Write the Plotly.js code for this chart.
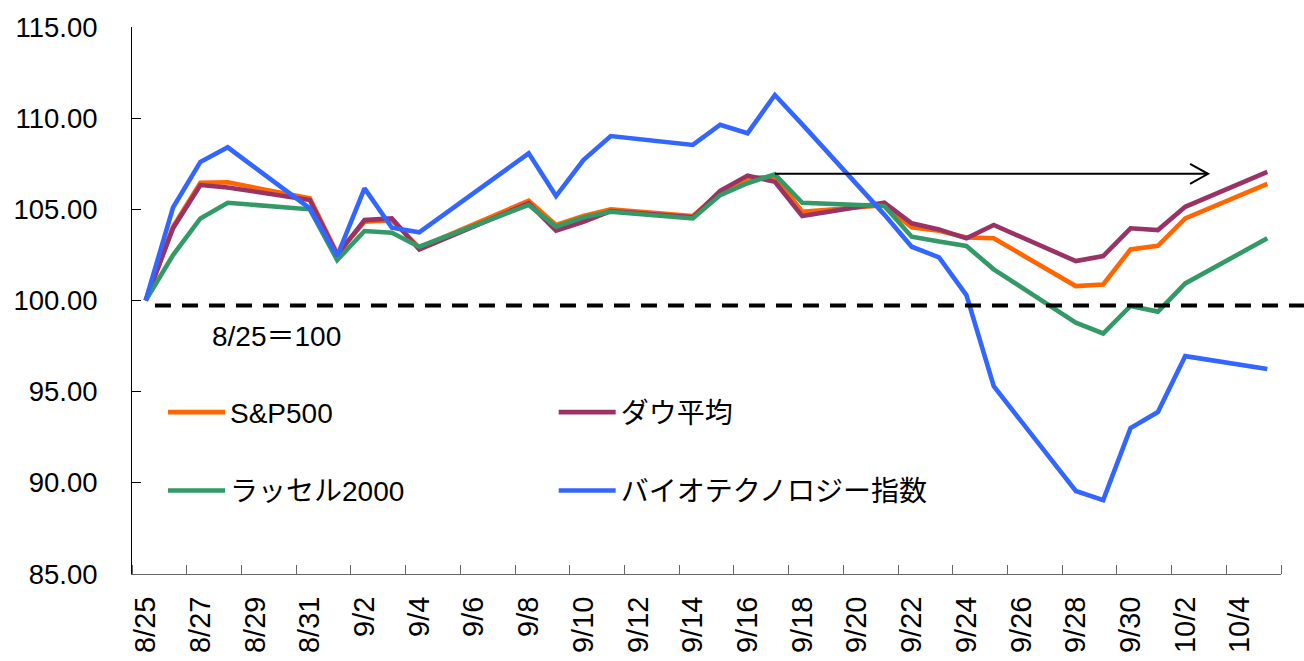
<!DOCTYPE html>
<html>
<head>
<meta charset="utf-8">
<script src="https://cdn.plot.ly/plotly-3.0.1.min.js"></script>
<style>html,body{margin:0;padding:0;background:#fff;}#chart{width:1304px;height:661px;}</style>
</head>
<body>
<div id="chart"></div>
<script>
// Trading days
const dates = ['2015-08-25','2015-08-26','2015-08-27','2015-08-28','2015-08-31','2015-09-01','2015-09-02','2015-09-03','2015-09-04','2015-09-08','2015-09-09','2015-09-10','2015-09-11','2015-09-14','2015-09-15','2015-09-16','2015-09-17','2015-09-18','2015-09-21','2015-09-22','2015-09-23','2015-09-24','2015-09-25','2015-09-28','2015-09-29','2015-09-30','2015-10-01','2015-10-02','2015-10-05'];

const seriesNames = ['S&P500', 'ダウ平均', 'ラッセル2000', 'バイオテクノロジー指数'];

const sp500 = [100, 104.05, 106.46, 106.48, 105.6, 102.58, 104.32, 104.41, 102.9, 105.47, 104.14, 104.63, 105.0, 104.63, 105.91, 106.7, 106.79, 104.87, 105.22, 104.01, 103.83, 103.46, 103.41, 100.79, 100.88, 102.8, 103.0, 104.5, 106.39];
const dow = [100, 103.96, 106.33, 106.2, 105.51, 102.49, 104.41, 104.5, 102.8, 105.33, 103.83, 104.32, 104.9, 104.56, 106.02, 106.85, 106.51, 104.63, 105.36, 104.23, 103.9, 103.41, 104.14, 102.16, 102.44, 103.96, 103.86, 105.14, 107.06];
const russell = [100, 102.49, 104.5, 105.36, 105.0, 102.22, 103.81, 103.72, 102.95, 105.24, 104.05, 104.56, 104.87, 104.5, 105.78, 106.43, 106.92, 105.36, 105.18, 103.5, 103.23, 102.99, 101.71, 98.78, 98.19, 99.7, 99.39, 100.94, 103.41];
const bio = [100, 105.1, 107.6, 108.4, 105.05, 102.44, 106.15, 103.99, 103.74, 108.07, 105.73, 107.7, 109.02, 108.53, 109.64, 109.17, 111.27, 109.66, 104.71, 102.95, 102.37, 100.3, 95.3, 89.55, 89.05, 93.0, 93.88, 96.95, 96.24];

// Reference line & arrow
const baseLevel = 99.73;
const baseLabel = '8/25＝100';
const baseLabelPos = ['2015-08-29 19:00', 98.0];
const arrowY = 106.95;
const arrowStart = '2015-09-17';
const arrowEnd = '2015-10-02 20:00';

const colors = ['#FF6600', '#993366', '#339966', '#3366FF'];
const values = [sp500, dow, russell, bio];
const legendIds = ['legend', 'legend2', 'legend', 'legend2'];

const FONT = 'Liberation Sans, Arial, Noto Sans CJK JP, sans-serif';

const traces = values.map((v, i) => ({
  type: 'scatter',
  mode: 'lines',
  x: dates,
  y: v,
  name: seriesNames[i],
  line: {color: colors[i], width: 4.6},
  legend: legendIds[i],
  legendgroup: 'g' + i,
  hoverinfo: 'skip'
}));

const DAY = 86400000;

const layout = {
  width: 1304,
  height: 661,
  margin: {l: 132, r: 23, t: 27, b: 87},
  paper_bgcolor: '#fff',
  plot_bgcolor: '#fff',
  font: {family: FONT, color: '#000'},
  showlegend: true,
  xaxis: {
    type: 'date',
    range: ['2015-08-24 12:00', '2015-10-05 12:00'],
    tick0: '2015-08-25',
    dtick: 2 * DAY,
    tickformat: '%-m/%-d',
    tickangle: -90,
    ticks: '',
    ticklabelstandoff: 10,
    tickfont: {size: 29, family: FONT},
    showgrid: false,
    zeroline: false,
    showline: true,
    linecolor: '#666',
    linewidth: 1,
    minor: {
      tick0: '2015-08-24 12:00',
      dtick: 2 * DAY,
      ticks: 'inside',
      ticklen: 9,
      tickcolor: '#666',
      tickwidth: 1,
      showgrid: false
    }
  },
  yaxis: {
    range: [85, 115],
    dtick: 5,
    tick0: 85,
    tickformat: '.2f',
    ticks: 'inside',
    ticklen: 9,
    tickcolor: '#000',
    tickwidth: 1,
    ticklabelstandoff: 28,
    tickfont: {size: 27.5, family: FONT},
    showgrid: false,
    zeroline: false,
    showline: true,
    linecolor: '#000',
    linewidth: 1
  },
  legend: {
    x: 0.027, xanchor: 'left',
    y: 0.341, yanchor: 'top',
    bgcolor: 'rgba(0,0,0,0)',
    borderwidth: 0,
    font: {size: 28, family: FONT},
    itemwidth: 57,
    tracegroupgap: 39,
    orientation: 'v'
  },
  legend2: {
    x: 0.367, xanchor: 'left',
    y: 0.341, yanchor: 'top',
    bgcolor: 'rgba(0,0,0,0)',
    borderwidth: 0,
    font: {size: 28, family: FONT},
    itemwidth: 57,
    tracegroupgap: 39,
    orientation: 'v'
  },
  shapes: [
    {
      type: 'line', xref: 'paper', yref: 'y',
      x0: 0.02, x1: 1.02, y0: baseLevel, y1: baseLevel,
      line: {color: '#000', width: 4, dash: '16px,11px'}
    },
    {
      type: 'line', xref: 'x', yref: 'y',
      x0: arrowStart, x1: arrowEnd, y0: arrowY, y1: arrowY,
      line: {color: '#000', width: 2}
    },
    {
      type: 'path', xref: 'x', yref: 'y',
      xsizemode: 'pixel', ysizemode: 'pixel',
      xanchor: arrowEnd, yanchor: arrowY,
      path: 'M-18,-10 L0,0 L-18,10',
      line: {color: '#000', width: 2}
    }
  ],
  annotations: [
    {
      x: baseLabelPos[0], y: baseLabelPos[1], xref: 'x', yref: 'y',
      text: baseLabel, showarrow: false,
      font: {size: 28, family: FONT, color: '#000'}
    }
  ]
};

Plotly.newPlot('chart', traces, layout, {displayModeBar: false, staticPlot: true});
</script>
</body>
</html>
